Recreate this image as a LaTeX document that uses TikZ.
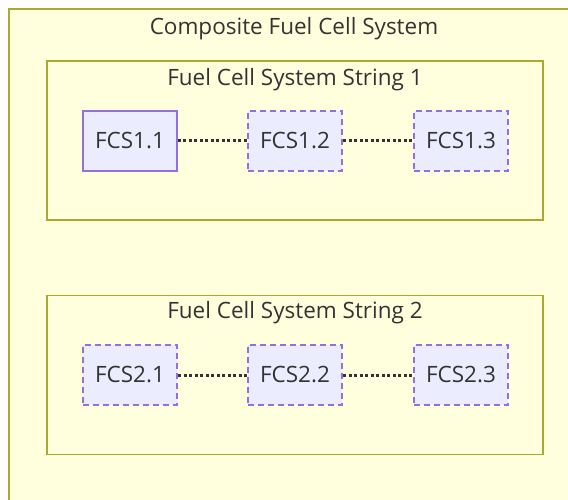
\documentclass[tikz,border=0pt]{standalone}
\usepackage{fontspec}
\setmainfont{Open Sans}
\definecolor{clfill}{HTML}{FFFFDE}
\definecolor{clstroke}{HTML}{AAAA33}
\definecolor{ndfill}{HTML}{ECECFF}
\definecolor{ndstroke}{HTML}{9370DB}
\definecolor{txt}{HTML}{333333}
\begin{document}
\begin{tikzpicture}[x=1pt,y=-1pt,
  cluster/.style={draw=clstroke,fill=clfill,line width=1.6pt},
  fcs/.style={draw=ndstroke,fill=ndfill,line width=1.6pt,minimum width=94pt,minimum height=60pt,inner sep=0pt,text=txt,font=\fontsize{22.5}{26}\selectfont},
  fcsd/.style={fcs,dash pattern=on 6pt off 4pt,line width=2.8pt},
  title/.style={text=txt,font=\fontsize{22.5}{26}\selectfont,inner sep=0pt},
  link/.style={draw=txt,line width=3pt,dash pattern=on 3pt off 2.5pt}]
\useasboundingbox (0,0) rectangle (568,500);
\fill[white] (0,0) rectangle (568,500);
\fill[clfill] (9,9) rectangle (575,510);
\path[cluster] (575,9) -- (9,9) -- (9,510);
\node[title] (t0) at (294,29) {Composite Fuel Cell System};
\node[cluster,minimum width=496pt,minimum height=159pt,inner sep=0pt] (s1) at (295,140.5) {};
\node[cluster,minimum width=496pt,minimum height=159pt,inner sep=0pt] (s2) at (295,375) {};
\node[title] (t1) at (295,80) {Fuel Cell System String 1};
\node[title] (t2) at (295,313) {Fuel Cell System String 2};
\node[fcs] (a1) at (130,141) {FCS1.1};
\node[fcsd] (a2) at (295,141) {FCS1.2};
\node[fcsd] (a3) at (461,141) {FCS1.3};
\node[fcsd] (b1) at (130,375) {FCS2.1};
\node[fcsd] (b2) at (295,375) {FCS2.2};
\node[fcsd] (b3) at (461,375) {FCS2.3};
\draw[link] (a1) -- (a2);
\draw[link] (a2) -- (a3);
\draw[link] (b1) -- (b2);
\draw[link] (b2) -- (b3);
\end{tikzpicture}
\end{document}
